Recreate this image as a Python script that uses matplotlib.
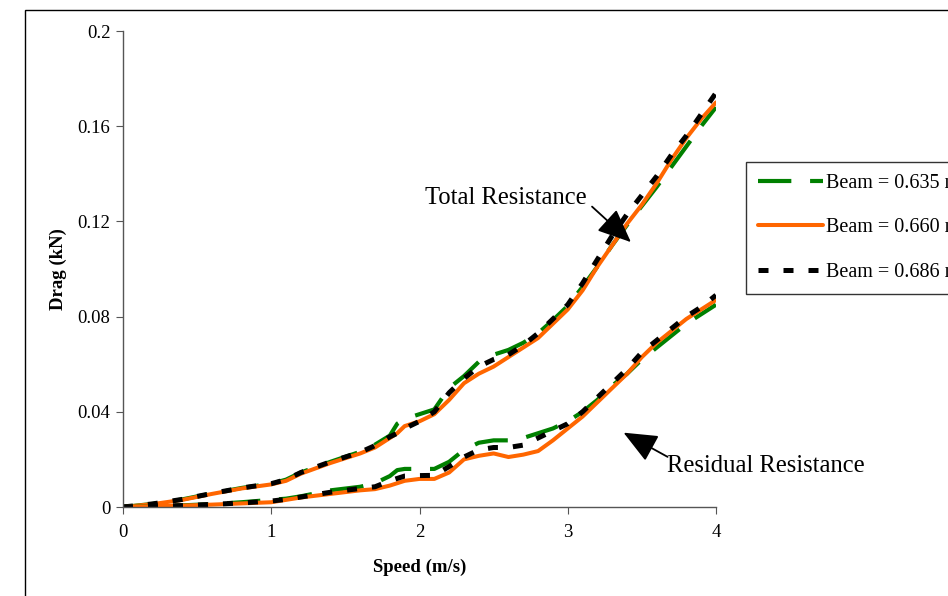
import matplotlib.pyplot as plt
from matplotlib.patches import Rectangle

plt.rcParams['font.family'] = ['Liberation Serif', 'DejaVu Serif']

speed = [0, 0.2, 0.4, 0.6, 0.8, 1.0, 1.1, 1.2, 1.4, 1.6, 1.7, 1.8, 1.85, 1.9, 2.0,
         2.1, 2.2, 2.3, 2.4, 2.5, 2.6, 2.7, 2.8, 2.9, 3.0, 3.1, 3.2, 3.3, 3.4,
         3.5, 3.6, 3.7, 3.8, 3.9, 4.0]

# total resistance (kN)
total_635 = [0, 0.0013, 0.0032, 0.0057, 0.0080, 0.0098, 0.0115, 0.0145, 0.0190, 0.0232,
             0.0262, 0.0300, 0.0350, 0.0370, 0.0390, 0.0410, 0.0500, 0.0550, 0.0610,
             0.0640, 0.0660, 0.0690, 0.0730, 0.0785, 0.0845, 0.0925, 0.1010, 0.1100,
             0.1185, 0.1265, 0.1345, 0.1430, 0.1515, 0.1600, 0.1680]
total_660 = [0, 0.0012, 0.0030, 0.0055, 0.0078, 0.0095, 0.0110, 0.0140, 0.0185, 0.0225,
             0.0250, 0.0290, 0.0310, 0.0340, 0.0360, 0.0390, 0.0450, 0.0520, 0.0560,
             0.0590, 0.0630, 0.0670, 0.0710, 0.0770, 0.0830, 0.0910, 0.1010, 0.1100,
             0.1190, 0.1270, 0.1360, 0.1460, 0.1550, 0.1630, 0.1700]
total_686 = [0, 0.0013, 0.0032, 0.0057, 0.0080, 0.0098, 0.0115, 0.0145, 0.0190, 0.0230,
             0.0258, 0.0295, 0.0310, 0.0330, 0.0360, 0.0400, 0.0480, 0.0540, 0.0590,
             0.0620, 0.0640, 0.0680, 0.0730, 0.0790, 0.0850, 0.0940, 0.1040, 0.1140,
             0.1230, 0.1310, 0.1390, 0.1480, 0.1560, 0.1650, 0.1740]

# residual resistance (kN)
resid_635 = [0, 0.0003, 0.0007, 0.0012, 0.0020, 0.0030, 0.0035, 0.0045, 0.0070, 0.0085,
             0.0100, 0.0130, 0.0155, 0.0160, 0.0160, 0.0160, 0.0190, 0.0240, 0.0270,
             0.0280, 0.0280, 0.0290, 0.0310, 0.0330, 0.0360, 0.0400, 0.0450, 0.0510,
             0.0560, 0.0620, 0.0670, 0.0720, 0.0770, 0.0810, 0.0850]
resid_660 = [0, 0.0003, 0.0006, 0.0010, 0.0015, 0.0020, 0.0030, 0.0040, 0.0055, 0.0070,
             0.0075, 0.0090, 0.0100, 0.0110, 0.0118, 0.0118, 0.0145, 0.0200, 0.0215,
             0.0225, 0.0210, 0.0220, 0.0235, 0.0280, 0.0330, 0.0380, 0.0440, 0.0500,
             0.0560, 0.0630, 0.0690, 0.0740, 0.0790, 0.0830, 0.0870]
resid_686 = [0, 0.0003, 0.0006, 0.0011, 0.0017, 0.0025, 0.0032, 0.0042, 0.0062, 0.0078,
             0.0085, 0.0110, 0.0120, 0.0130, 0.0132, 0.0133, 0.0170, 0.0210, 0.0240,
             0.0250, 0.0250, 0.0260, 0.0290, 0.0320, 0.0350, 0.0400, 0.0460, 0.0520,
             0.0580, 0.0650, 0.0700, 0.0750, 0.0800, 0.0840, 0.0890]

beam_labels = ['Beam = 0.635 m', 'Beam = 0.660 m', 'Beam = 0.686 m']
x_ticks = [0, 1, 2, 3, 4]
y_ticks = [0, 0.04, 0.08, 0.12, 0.16, 0.2]
y_tick_labels = ['0', '0.04', '0.08', '0.12', '0.16', '0.2']

fig = plt.figure(figsize=(9.48, 5.96), dpi=100)
ax = fig.add_axes([123/948, 1-507/596, (716-123)/948, (507-31)/596])

green = '#008000'
orange = '#ff6600'

# series drawn in the same order as the legend
g1, = ax.plot(speed, total_635, color=green, lw=3.0, dashes=(8, 4.5), label=beam_labels[0])
o1, = ax.plot(speed, total_660, color=orange, lw=2.9, solid_capstyle='round', label=beam_labels[1])
b1, = ax.plot(speed, total_686, color='black', lw=3.6, dashes=(2, 3), label=beam_labels[2])
ax.plot(speed, resid_635, color=green, lw=3.0, dashes=(8, 4.5))
ax.plot(speed, resid_660, color=orange, lw=2.9, solid_capstyle='round')
ax.plot(speed, resid_686, color='black', lw=3.6, dashes=(2, 3))

ax.set_xlim(0, 4)
ax.set_ylim(0, 0.2)
ax.set_xticks(x_ticks)
ax.set_yticks(y_ticks)
ax.set_yticklabels(y_tick_labels)
for s in ['top', 'right']:
    ax.spines[s].set_visible(False)
for s in ['left', 'bottom']:
    ax.spines[s].set_color('#555555')
    ax.spines[s].set_linewidth(1.0)
ax.tick_params(direction='out', length=5, color='#555555', labelsize=13.5)
ax.tick_params(axis='y', pad=4)
ax.tick_params(axis='x', pad=7)

ax.set_xlabel('Speed (m/s)', fontsize=13.5, fontweight='bold', labelpad=13)
ax.set_ylabel('Drag (kN)', fontsize=13.5, fontweight='bold', labelpad=8)

# annotations
ax.text(2.585, 0.1298, 'Total Resistance', fontsize=17.7, ha='center', va='center')
ax.annotate('', xy=(3.44, 0.1105), xytext=(3.15, 0.127),
            arrowprops=dict(arrowstyle='-|>,head_length=1.4,head_width=0.6',
                            color='black', lw=1.3, mutation_scale=15))
ax.text(3.67, 0.0172, 'Residual Resistance', fontsize=17.7, ha='left', va='center')
ax.annotate('', xy=(3.36, 0.0318), xytext=(3.69, 0.0205),
            arrowprops=dict(arrowstyle='-|>,head_length=1.4,head_width=0.6',
                            color='black', lw=1.3, mutation_scale=15))

leg = fig.legend(handles=[g1, o1, b1], loc='upper left',
                 bbox_to_anchor=(746/948, 1-162/596), borderaxespad=0,
                 fontsize=14.5, frameon=True, fancybox=False, edgecolor='black',
                 handlelength=3.2, handletextpad=0.15, labelspacing=1.25,
                 borderpad=0.6)
leg.get_frame().set_linewidth(1.0)

# outer chart border
fig.patches.append(Rectangle((25/948, -0.5), 5, 0.5 + 1 - 10/596, transform=fig.transFigure,
                             fill=False, edgecolor='black', lw=1.0))

fig.savefig('out.png', dpi=100)
